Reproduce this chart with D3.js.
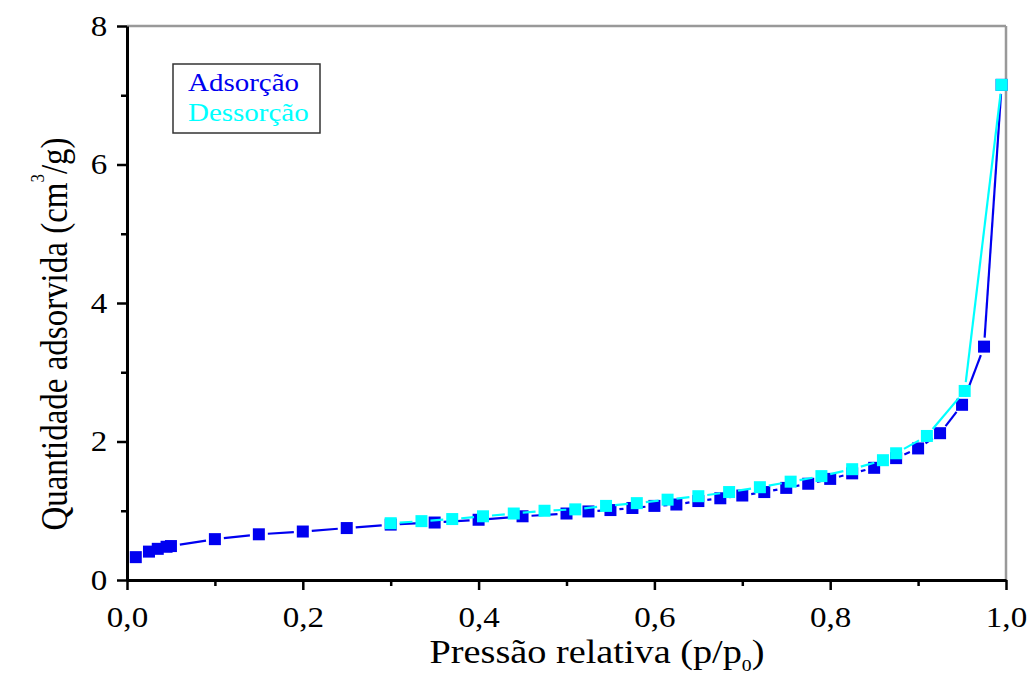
<!DOCTYPE html>
<html>
<head>
<meta charset="utf-8">
<script src="https://cdn.jsdelivr.net/npm/d3@7"></script>
<style>
  body { margin: 0; background: #fff; }
  text { font-family: "Liberation Serif", "Times New Roman", serif; }
</style>
</head>
<body>
<div id="chart"></div>
<script>
// Isoterma de adsorção / dessorção
const adsP = [0.01, 0.025, 0.035, 0.045, 0.05, 0.1, 0.15, 0.2, 0.25, 0.3, 0.35, 0.4, 0.45, 0.5,
  0.525, 0.55, 0.575, 0.6, 0.625, 0.65, 0.675, 0.7, 0.725, 0.75, 0.775, 0.8, 0.825, 0.85,
  0.875, 0.9, 0.925, 0.95, 0.975, 0.995];
const adsV = [0.33, 0.41, 0.45, 0.48, 0.49, 0.59, 0.66, 0.70, 0.75, 0.80, 0.83, 0.87, 0.92, 0.96,
  0.99, 1.01, 1.04, 1.07, 1.09, 1.14, 1.18, 1.22, 1.27, 1.33, 1.39, 1.46, 1.54, 1.62,
  1.76, 1.90, 2.12, 2.53, 3.37, 7.15];

const desP = [0.30, 0.335, 0.37, 0.405, 0.44, 0.475, 0.51, 0.545, 0.58, 0.615, 0.65, 0.685,
  0.72, 0.755, 0.79, 0.825, 0.86, 0.875, 0.91, 0.953, 0.995];
const desV = [0.82, 0.85, 0.88, 0.92, 0.96, 1.00, 1.02, 1.07, 1.11, 1.16, 1.21, 1.27,
  1.34, 1.42, 1.50, 1.60, 1.73, 1.83, 2.08, 2.73, 7.15];

const xTicks = [0, 0.2, 0.4, 0.6, 0.8, 1.0];
const yTicks = [0, 2, 4, 6, 8];
const legendLabels = ["Adsorção", "Dessorção"];

const W = 1029, H = 678;
const margin = { top: 26, right: 23, bottom: 98, left: 127 };
const width = W - margin.left - margin.right;
const height = H - margin.top - margin.bottom;
const stretch = 1.16; // text in the original is a bit wide

const svg = d3.select("#chart").append("svg")
  .attr("width", W)
  .attr("height", H);

const g = svg.append("g")
  .attr("transform", `translate(${margin.left},${margin.top})`);

const x = d3.scaleLinear().domain([0, 1]).range([0, width]);
const y = d3.scaleLinear().domain([0, 8]).range([height, 0]);

const fmt = d => d3.format(".1f")(d).replace(".", ",");

// top / right frame (grey)
g.append("line").attr("x1", 0).attr("x2", width).attr("y1", 0).attr("y2", 0)
  .attr("stroke", "#999").attr("stroke-width", 2.5);
g.append("line").attr("x1", width).attr("x2", width).attr("y1", 0).attr("y2", height)
  .attr("stroke", "#999").attr("stroke-width", 2.5);

// minor ticks
g.append("g")
  .attr("transform", `translate(0,${height})`)
  .call(d3.axisBottom(x).tickValues([0.1, 0.3, 0.5, 0.7, 0.9]).tickSize(6).tickFormat(""))
  .call(a => a.select(".domain").remove())
  .selectAll("line").attr("stroke-width", 2.5);
g.append("g")
  .call(d3.axisLeft(y).tickValues([1, 3, 5, 7]).tickSize(6).tickFormat(""))
  .call(a => a.select(".domain").remove())
  .selectAll("line").attr("stroke-width", 2.5);

// main axes
const xAxis = g.append("g")
  .attr("transform", `translate(0,${height})`)
  .call(d3.axisBottom(x).tickValues(xTicks).tickSize(10).tickSizeOuter(0).tickPadding(17).tickFormat(fmt));
const yAxis = g.append("g")
  .call(d3.axisLeft(y).tickValues(yTicks).tickSize(10).tickSizeOuter(0).tickPadding(7).tickFormat(d3.format("d")));

[xAxis, yAxis].forEach(a => {
  a.select(".domain").attr("stroke-width", 3);
  a.selectAll(".tick line").attr("stroke-width", 2.5);
  a.selectAll("text")
    .style("font-family", "Liberation Serif")
    .style("font-size", "28.5px")
    .attr("fill", "#000")
    .attr("transform", `scale(${stretch},1)`);
});

// line with gaps around each symbol
const gap = 9;
function gappedSegments(px, py) {
  const segs = [];
  for (let i = 0; i < px.length - 1; i++) {
    const x1 = x(px[i]), y1 = y(py[i]), x2 = x(px[i + 1]), y2 = y(py[i + 1]);
    const dx = x2 - x1, dy = y2 - y1, len = Math.hypot(dx, dy);
    if (len <= 2 * gap) continue;
    const ux = dx / len, uy = dy / len;
    segs.push([x1 + ux * gap, y1 + uy * gap, x2 - ux * gap, y2 - uy * gap]);
  }
  return segs;
}

function drawSeries(px, py, color) {
  g.append("g").selectAll("line")
    .data(gappedSegments(px, py))
    .enter().append("line")
    .attr("x1", d => d[0]).attr("y1", d => d[1])
    .attr("x2", d => d[2]).attr("y2", d => d[3])
    .attr("stroke", color)
    .attr("stroke-width", 2.2);
  const s = 12;
  g.append("g").selectAll("rect")
    .data(px.map((p, i) => [p, py[i]]))
    .enter().append("rect")
    .attr("x", d => x(d[0]) - s / 2)
    .attr("y", d => y(d[1]) - s / 2)
    .attr("width", s).attr("height", s)
    .attr("fill", color);
}

drawSeries(adsP, adsV, "#0000f0");
drawSeries(desP, desV, "#00ffff");

// legend
const legend = svg.append("g");
legend.append("rect")
  .attr("x", 173).attr("y", 64).attr("width", 147).attr("height", 69)
  .attr("fill", "#fff").attr("stroke", "#333").attr("stroke-width", 1.5);
legend.selectAll("text")
  .data(legendLabels)
  .enter().append("text")
  .attr("transform", (d, i) => `translate(188,${91 + i * 30}) scale(${stretch},1)`)
  .attr("fill", (d, i) => i === 0 ? "#0000f0" : "#00ffff")
  .style("font-size", "25px")
  .text(d => d);

// axis titles
const xt = svg.append("text")
  .attr("transform", `translate(597,663) scale(${stretch},1)`)
  .attr("text-anchor", "middle")
  .style("font-size", "33px");
xt.append("tspan").text("Pressão relativa (p/p");
xt.append("tspan").attr("dy", 8).style("font-size", "17px").text("0");
xt.append("tspan").attr("dy", -8).text(")");

const yt = svg.append("text")
  .attr("transform", `translate(67,334) scale(${stretch},1) rotate(-90)`)
  .attr("text-anchor", "middle")
  .style("font-size", "33px");
yt.append("tspan").text("Quantidade adsorvida (cm");
yt.append("tspan").attr("dy", -20).style("font-size", "17px").text("3");
yt.append("tspan").attr("dy", 20).text("/g)");
</script>
</body>
</html>
